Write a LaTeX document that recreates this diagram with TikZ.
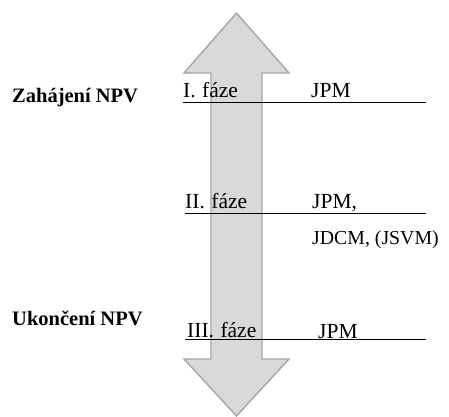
\documentclass[tikz,border=0pt]{standalone}
\usepackage{fontspec}
\setmainfont{Liberation Serif}
\begin{document}
\begin{tikzpicture}[x=1pt,y=-1pt,
  bigarrow/.style={fill=black!15,draw=black!35,line width=1.4pt,line join=miter},
  rule/.style={draw=black,line width=1pt},
  phase/.style={anchor=base west,inner sep=0pt,font=\fontsize{21.5}{26}\selectfont},
  agent/.style={anchor=base west,inner sep=0pt,font=\fontsize{21.5}{26}\selectfont},
  milestone/.style={anchor=base west,inner sep=0pt,font=\fontsize{20.5}{24}\selectfont\bfseries}]
\useasboundingbox (0,0) rectangle (449,416);
% double arrow
\draw[bigarrow] (236.5,13) -- (289,73) -- (262,73) -- (262,359) -- (289,359)
  -- (236.5,416) -- (184,359) -- (211,359) -- (211,73) -- (184,73) -- cycle;
% rules
\coordinate (r1a) at (183,102); \coordinate (r1b) at (426,102);
\coordinate (r2a) at (185,213); \coordinate (r2b) at (426,213);
\coordinate (r3a) at (185,339); \coordinate (r3b) at (426,339);
\draw[rule] (r1a) -- (r1b);
\draw[rule] (r2a) -- (r2b);
\draw[rule] (r3a) -- (r3b);
% texts
\node[milestone] (m1) at (12,102) {Zahájení NPV};
\node[milestone] (m2) at (12,325) {Ukončení NPV};
\node[phase] (p1) at (183,97) {I.\hspace{0.3em}fáze};
\node[phase] (p2) at (185,208) {II.\hspace{0.3em}fáze};
\node[phase] (p3) at (187,337) {III.\hspace{0.3em}fáze};
\node[agent] (a1) at (311,97) {JPM};
\node[agent] (a2) at (312,208) {JPM,};
\node[agent,font=\fontsize{19.8}{24}\selectfont] (a2b) at (312,244) {JDCM, (JSVM)};
\node[agent] (a3) at (318,338) {JPM};
\end{tikzpicture}
\end{document}
